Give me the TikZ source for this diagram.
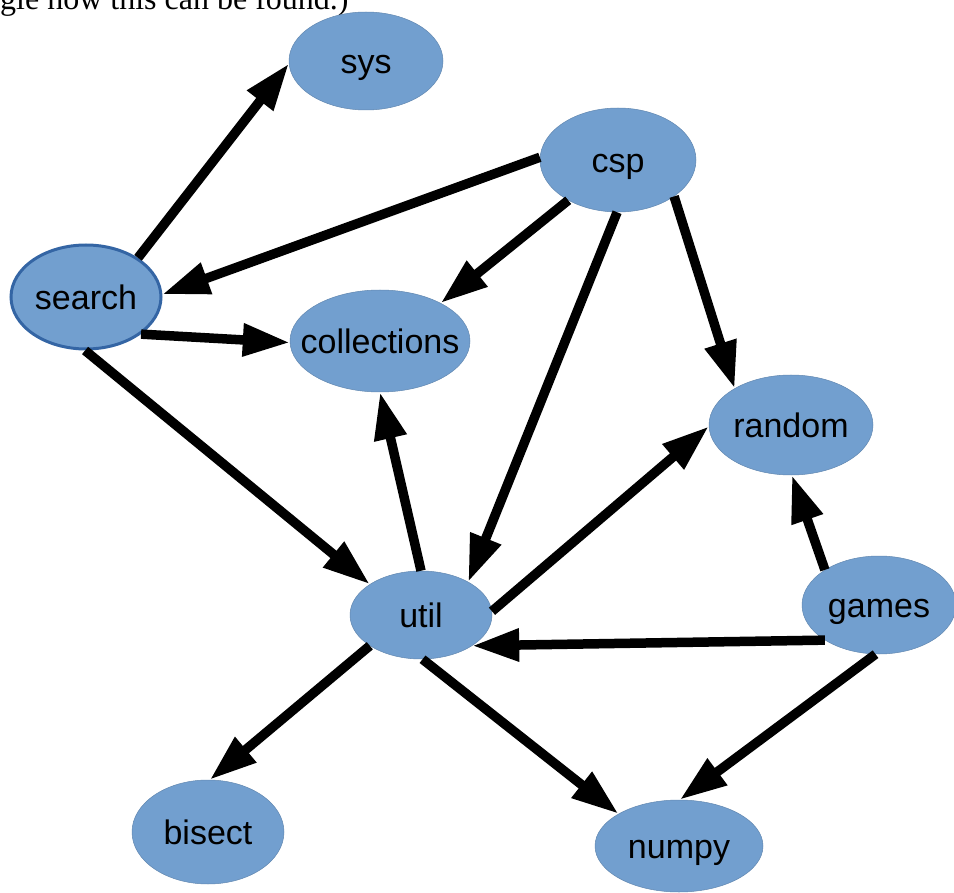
\documentclass[tikz,border=0pt]{standalone}
\usepackage{fontspec}
\setmainfont{Liberation Sans}
\newfontfamily\serifnote{Liberation Serif}
\usetikzlibrary{shapes.geometric,arrows.meta}
\definecolor{nodeblue}{RGB}{114,159,207}
\definecolor{nodeedge}{RGB}{52,101,164}
\begin{document}
\begin{tikzpicture}[x=1pt,y=-1pt,
  mod/.style={ellipse, fill=nodeblue, draw=nodeblue!85!black, line width=0.5pt,
    inner sep=0pt, text height=25pt, text depth=0pt,
    font=\fontsize{34}{40}\selectfont},
  focus/.style={draw=nodeedge, line width=3pt},
  dep/.style={line width=9.5pt, -{Triangle[length=47pt,width=31pt]}}]
\useasboundingbox (0,0) rectangle (954,893);
\clip (0,0) rectangle (954,893);
\node[anchor=base west, inner sep=0pt, font=\serifnote\fontsize{32}{38}\selectfont] (note) at (0,10) {gle how this can be found.)};
\node[mod, minimum width=154pt, minimum height=98pt] (sys) at (366,61) {\makebox[0pt]{sys}};
\node[mod, minimum width=156pt, minimum height=104pt] (csp) at (618,160) {\makebox[0pt]{csp}};
\node[mod, focus, minimum width=150pt, minimum height=104pt] (search) at (86,297) {\makebox[0pt]{search}};
\node[mod, minimum width=180pt, minimum height=102pt] (collections) at (380,341) {\makebox[0pt]{collections}};
\node[mod, minimum width=164pt, minimum height=100pt] (random) at (791,425) {\makebox[0pt]{random}};
\node[mod, minimum width=142pt, minimum height=88pt] (util) at (421,615) {\makebox[0pt]{util}};
\node[mod, minimum width=154pt, minimum height=98pt] (games) at (879,605) {\makebox[0pt]{games}};
\node[mod, minimum width=152pt, minimum height=104pt] (bisect) at (208,832) {\makebox[0pt]{bisect}};
\node[mod, minimum width=168pt, minimum height=92pt] (numpy) at (679,846) {\makebox[0pt]{numpy}};
\draw[dep] (search.37) -- (sys.182);
\draw[dep] (csp.178) -- (search.2);
\draw[dep] (csp.219) -- (collections.32);
\draw[dep] (csp.269) -- (util.35);
\draw[dep] (csp.327) -- (random.147);
\draw[dep] (search.326) -- (collections.181);
\draw[dep] (search.269) -- (util.149);
\draw[dep] (util.90) -- (collections.270);
\draw[dep] (util.3) -- (random.181);
\draw[dep] (games.147) -- (random.271);
\draw[dep] (games.213) -- (util.329);
\draw[dep] (games.266) -- (numpy.89);
\draw[dep] (util.211) -- (bisect.88);
\draw[dep] (util.272) -- (numpy.152);
\end{tikzpicture}
\end{document}
